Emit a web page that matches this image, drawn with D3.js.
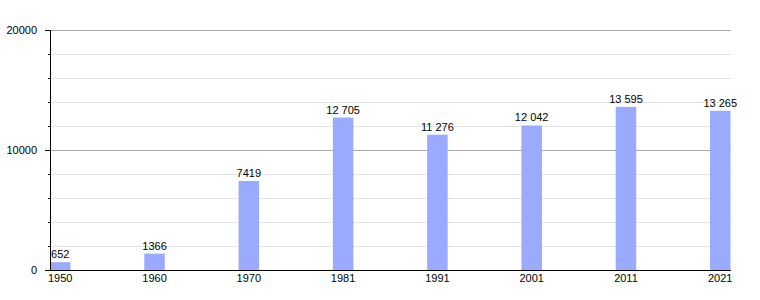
<!DOCTYPE html>
<html><head><meta charset="utf-8">
<script src="https://cdn.jsdelivr.net/npm/d3@7"></script>
<style>body{margin:0;background:#fff}svg{display:block}text{font-family:"Liberation Sans",Arial,sans-serif;font-size:11px;fill:#000}</style>
</head><body><div id="c"></div>
<script>
const years = ["1950","1960","1970","1981","1991","2001","2011","2021"];
const population = [652,1366,7419,12705,11276,12042,13595,13265];
const valueLabels = ["652","1366","7419","12 705","11 276","12 042","13 595","13 265"];
const yMajorTicks = [0,10000,20000];
const yMinorTicks = [2000,4000,6000,8000,12000,14000,16000,18000];

const W=760,H=300;
const svg=d3.select("#c").append("svg").attr("width",W).attr("height",H);
const x=d3.scalePoint().domain(years).range([50,710]);
const barW=20.5;
const y=d3.scaleLinear().domain([0,20000]).range([270,30]);

// minor gridlines
svg.selectAll(".gmin").data(yMinorTicks).join("line")
  .attr("x1",50).attr("x2",731).attr("y1",d=>Math.round(y(d))+0.5).attr("y2",d=>Math.round(y(d))+0.5)
  .attr("stroke","#e4e4e4").attr("stroke-width",1);
svg.selectAll(".gmaj").data(yMajorTicks.filter(d=>d>0)).join("line")
  .attr("x1",50).attr("x2",731).attr("y1",d=>Math.round(y(d))+0.5).attr("y2",d=>Math.round(y(d))+0.5)
  .attr("stroke","#aaaaaa").attr("stroke-width",1);

// bars
svg.selectAll(".bar").data(population).join("rect")
  .attr("x",(d,i)=>x(years[i])).attr("width",barW)
  .attr("y",d=>y(d)).attr("height",d=>y(0)-y(d))
  .attr("fill","#99aaff");

// value labels
svg.selectAll(".vl").data(population).join("text")
  .attr("x",(d,i)=>x(years[i])+barW/2).attr("y",d=>y(d)-4)
  .attr("text-anchor","middle").text((d,i)=>valueLabels[i]);

// y axis
svg.append("line").attr("x1",50.5).attr("x2",50.5).attr("y1",30).attr("y2",270).attr("stroke","#000");
svg.selectAll(".tmaj").data(yMajorTicks).join("line")
  .attr("x1",45).attr("x2",50).attr("y1",d=>Math.round(y(d))+0.5).attr("y2",d=>Math.round(y(d))+0.5).attr("stroke","#000");
svg.selectAll(".tmin").data(yMinorTicks).join("line")
  .attr("x1",48).attr("x2",50).attr("y1",d=>Math.round(y(d))+0.5).attr("y2",d=>Math.round(y(d))+0.5).attr("stroke","#000");
svg.selectAll(".yl").data(yMajorTicks).join("text")
  .attr("x",37).attr("y",d=>y(d)+4).attr("text-anchor","end").text(d=>d);

// x axis
svg.append("line").attr("x1",45).attr("x2",731).attr("y1",270.5).attr("y2",270.5).attr("stroke","#000");
svg.selectAll(".xl").data(years).join("text")
  .attr("x",d=>x(d)+barW/2).attr("y",282).attr("text-anchor","middle").text(d=>d);
</script></body></html>
